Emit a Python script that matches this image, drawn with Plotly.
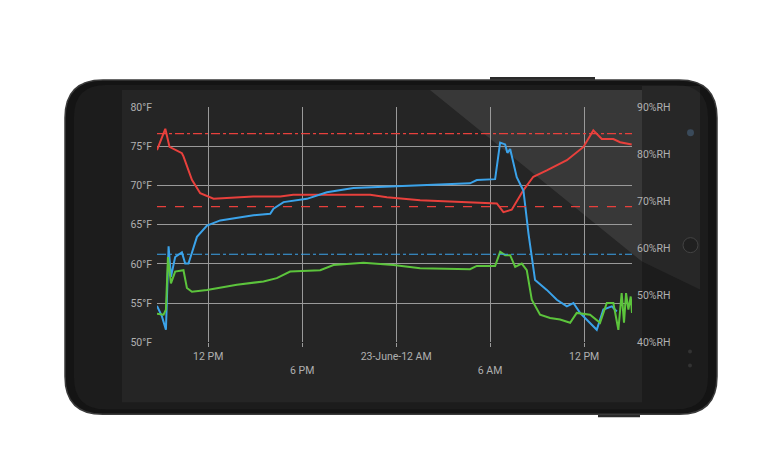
import plotly.graph_objects as go

W, H = 782, 462
OFF = 8  # page body margin
FW, FH = W - OFF, H - OFF
# hours since 00:00 on 22 June
temp_h = [8.73,9.26,9.53,10.32,10.42,10.96,11.49,12.34,14.87,16.6,17.43,22.34,23.41,25.53,30.43,30.85,31.38,32.13,32.76,33.62,34.9,35.96,36.59,37.13,37.87,38.3,39.04]
temp_f = [74.5,77.2,74.9,74.1,73.7,70.7,69.0,68.3,68.6,68.6,68.8,68.8,68.5,68.1,67.7,66.6,66.9,69.4,71.1,71.9,73.2,74.9,77.0,75.9,75.9,75.5,75.2]
blue_h = [8.73,9.04,9.3,9.47,9.62,9.89,10.32,10.53,10.74,11.28,11.92,12.77,14.89,15.96,16.17,16.81,18.3,19.58,21.27,23.41,25.53,28.72,29.15,30.32,30.64,30.96,31.1,31.28,31.7,32.13,32.45,32.87,33.62,34.26,34.9,35.32,35.74,36.81,37.23,37.77,38.09]
blue_rh = [47.8,45.6,42.7,60.5,54.0,58.2,59.2,56.8,56.8,62.5,64.9,66.0,67.1,67.4,68.5,69.9,70.6,72.0,72.9,73.2,73.4,73.9,74.6,74.8,82.6,82.2,80.4,81.2,75.2,72.3,63.2,53.3,51.2,49.1,47.7,48.4,46.3,42.7,47.0,47.7,46.6]
green_h = [8.73,9.15,9.3,9.43,9.62,9.89,10.42,10.64,10.96,11.92,13.83,15.53,16.38,17.23,19.15,20.0,21.91,23.83,25.53,28.72,29.15,30.32,30.64,30.96,31.28,31.6,32.02,32.34,32.66,33.19,33.83,34.47,35.11,35.53,36.38,37.02,37.45,37.87,38.19,38.4,38.55,38.68,38.83,38.98,39.06]
green_rh = [46.1,45.9,47.0,58.2,52.6,55.1,55.4,51.6,50.8,51.2,52.3,53.0,53.7,55.1,55.4,56.5,57.0,56.5,55.8,55.6,56.3,56.3,59.3,58.6,58.6,56.1,56.8,55.4,49.1,45.9,45.2,44.9,44.2,46.3,45.9,44.2,48.4,48.4,42.7,50.5,44.2,50.5,47.0,49.8,46.3]
temp_limits = [76.6, 67.3]
rh_limit = 58.8
temp_ticks = [50, 55, 60, 65, 70, 75, 80]
rh_ticks = [40, 50, 60, 70, 80, 90]
x_ticks = [12, 18, 24, 30, 36]
x_labels = ["12 PM", "<br>6 PM", "23-June-12 AM", "<br>6 AM", "12 PM"]
x_range = [8.73, 39.06]

RED, BLUE, GREEN = "#e8403c", "#3ba3ea", "#5cc43c"

def px(x): return (x - OFF) / FW
def py(y):
    y = (y - 6.2) / 0.973
    return 1 - (y - OFF) / FH

def rrect(x0, y0, x1, y1, r):
    return (f"M {px(x0+r)} {py(y0)} L {px(x1-r)} {py(y0)} Q {px(x1)} {py(y0)} {px(x1)} {py(y0+r)} "
            f"L {px(x1)} {py(y1-r)} Q {px(x1)} {py(y1)} {px(x1-r)} {py(y1)} L {px(x0+r)} {py(y1)} "
            f"Q {px(x0)} {py(y1)} {px(x0)} {py(y1-r)} L {px(x0)} {py(y0+r)} Q {px(x0)} {py(y0)} {px(x0+r)} {py(y0)} Z")

shapes = [
    dict(type="rect", xref="paper", yref="paper", x0=px(490), x1=px(595), y0=py(81), y1=py(77), fillcolor="#2a2a2a", line_width=0, layer="below"),
    dict(type="rect", xref="paper", yref="paper", x0=px(598), x1=px(640), y0=py(418), y1=py(413), fillcolor="#2a2a2a", line_width=0, layer="below"),
    dict(type="path", xref="paper", yref="paper", path=rrect(65, 80, 717, 415, 38), fillcolor="#141414", line=dict(color="#3a3a3a", width=1.5), layer="below"),
    dict(type="path", xref="paper", yref="paper", path=rrect(74, 85, 708, 410, 32), fillcolor="#1c1c1c", line_width=0, layer="below"),
    dict(type="rect", xref="paper", yref="paper", x0=px(122), x1=px(642), y0=py(403), y1=py(90), fillcolor="#252525", line_width=0, layer="below"),
    dict(type="path", xref="paper", yref="paper",
         path=f"M {px(430)} {py(90)} L {px(642)} {py(90)} L {px(642)} {py(262)} Z", fillcolor="rgba(255,255,255,0.09)", line_width=0, layer="below"),
    dict(type="path", xref="paper", yref="paper",
         path=f"M {px(642)} {py(86)} L {px(700)} {py(86)} L {px(700)} {py(290)} L {px(642)} {py(262)} Z", fillcolor="rgba(255,255,255,0.05)", line_width=0, layer="below"),
    dict(type="circle", xref="paper", yref="paper", x0=px(687), x1=px(694), y0=py(136.5), y1=py(129.5), fillcolor="#3a4a5a", line_width=0, layer="below"),
    dict(type="circle", xref="paper", yref="paper", x0=px(683), x1=px(698), y0=py(253), y1=py(238), fillcolor="#202020", line=dict(color="#444", width=1), layer="below"),
    dict(type="circle", xref="paper", yref="paper", x0=px(688), x1=px(692), y0=py(354), y1=py(350), fillcolor="#333", line_width=0, layer="below"),
    dict(type="circle", xref="paper", yref="paper", x0=px(688), x1=px(692), y0=py(368), y1=py(364), fillcolor="#333", line_width=0, layer="below"),
]
for v, d in zip(temp_limits, ["dashdot", "dash"]):
    shapes.append(dict(type="line", xref="x", yref="y", x0=x_range[0], x1=x_range[1], y0=v, y1=v, line=dict(color=RED, width=1.2, dash=d)))
shapes.append(dict(type="line", xref="x", yref="y2", x0=x_range[0], x1=x_range[1], y0=rh_limit, y1=rh_limit, line=dict(color=BLUE, width=1.2, dash="dashdot")))

fig = go.Figure()
fig.add_trace(go.Scatter(x=temp_h, y=temp_f, mode="lines", line=dict(color=RED, width=2), yaxis="y"))
fig.add_trace(go.Scatter(x=blue_h, y=blue_rh, mode="lines", line=dict(color=BLUE, width=2), yaxis="y2"))
fig.add_trace(go.Scatter(x=green_h, y=green_rh, mode="lines", line=dict(color=GREEN, width=2), yaxis="y2"))

tf = dict(family="Roboto", size=10.5, color="#b0b0b0")
fig.update_layout(
    width=FW, height=FH, margin=dict(l=0, r=0, t=0, b=0), showlegend=False,
    paper_bgcolor="white", plot_bgcolor="rgba(0,0,0,0)", shapes=shapes,
    xaxis=dict(domain=[px(157), px(632)], range=x_range, tickmode="array", tickvals=x_ticks, ticktext=x_labels,
               showgrid=True, gridcolor="#9a9a9a", gridwidth=1, zeroline=False, tickfont=tf,
               ticks="outside", ticklen=4, tickcolor="#9a9a9a", showline=False, fixedrange=True),
    yaxis=dict(domain=[py(343), py(107)], range=[50, 80], tickmode="array", tickvals=temp_ticks,
               ticktext=[f"{v}°F" for v in temp_ticks],
               showgrid=True, gridcolor="#9a9a9a", gridwidth=1, zeroline=False, tickfont=tf, ticklabelstandoff=4),
    yaxis2=dict(overlaying="y", side="right", range=[40, 90.2], tickmode="array", tickvals=rh_ticks,
                ticktext=[f"{v}%RH" for v in rh_ticks],
                showgrid=False, zeroline=False, tickfont=tf, ticklabelstandoff=4),
)
fig.write_html("out.html")
